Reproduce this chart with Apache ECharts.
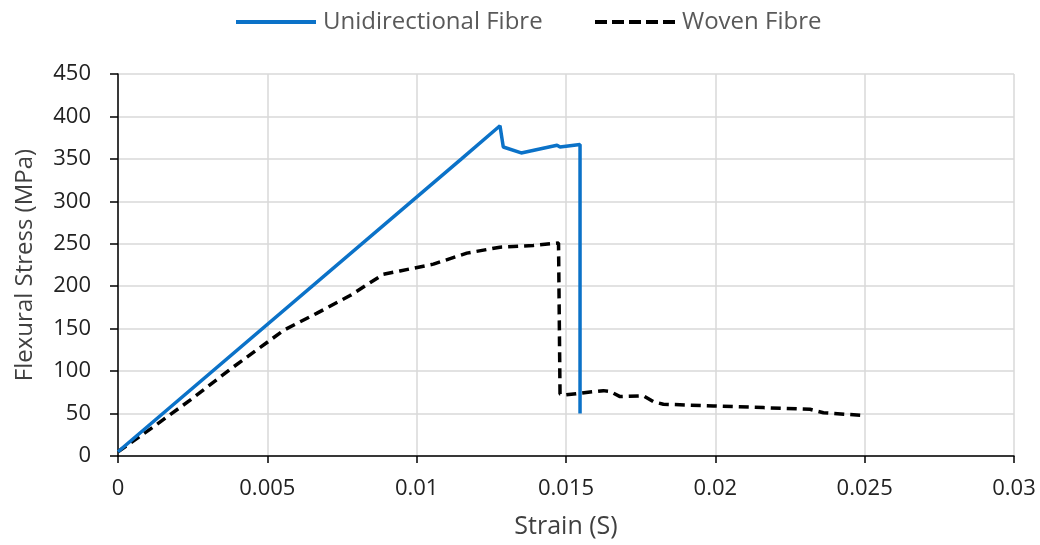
<!DOCTYPE html>
<html>
<head>
<meta charset="utf-8">
<script src="https://cdn.jsdelivr.net/npm/echarts@6/dist/echarts.min.js"></script>
<style>
html,body{margin:0;padding:0;background:#fff;}
#chart{width:1040px;height:545px;}
</style>
</head>
<body>
<div id="chart"></div>
<script>
const seriesNames = ['Unidirectional Fibre', 'Woven Fibre'];
const uniStrain = [0, 0.0115, 0.01279, 0.0129, 0.0135, 0.0147, 0.0148, 0.01547, 0.01547];
const uniStress = [5, 350, 389, 364, 357, 366, 364, 367, 50];
const wovenStrain = [0, 0.00125, 0.0025, 0.00375, 0.005, 0.00554, 0.00665, 0.00777, 0.00888, 0.00944, 0.01056, 0.01168, 0.01279, 0.0139, 0.01475, 0.0148, 0.0150, 0.01547, 0.01625, 0.01648, 0.01681, 0.01759, 0.01793, 0.01826, 0.01994, 0.02161, 0.02317, 0.02362, 0.02485];
const wovenStress = [5, 36, 68, 102, 134, 148, 168, 189, 214, 218, 226, 239, 246, 248, 251, 73, 72, 74, 77, 76, 70, 71, 64, 61, 59, 57, 55, 51, 48];
const xTicks = {min: 0, max: 0.03, interval: 0.005};
const yTicks = {min: 0, max: 450, interval: 50};

const zip = (a, b) => a.map((v, i) => [v, b[i]]);
const font = '"Open Sans", "Liberation Sans", sans-serif';
const dashIcon = 'path://M0,0h12v4h-12z M17,0h12v4h-12z M34,0h12v4h-12z M51,0h12v4h-12z M68,0h12v4h-12z';

const chart = echarts.init(document.getElementById('chart'), null, {renderer: 'canvas'});
chart.setOption({
  animation: false,
  backgroundColor: '#fff',
  textStyle: {fontFamily: font},
  grid: {left: 118, right: 26, top: 74, bottom: 89, containLabel: false},
  legend: [
    {data: [{name: seriesNames[0], icon: 'rect'}], left: 231, top: 5, itemWidth: 80, itemHeight: 4, itemGap: 0,
     textStyle: {fontSize: 24, color: '#595959', fontFamily: font, padding: [0,0,0,2]}},
    {data: [{name: seriesNames[1], icon: dashIcon}], left: 590, top: 5, itemWidth: 80, itemHeight: 4, itemGap: 0,
     textStyle: {fontSize: 24, color: '#595959', fontFamily: font, padding: [0,0,0,2]}}
  ],
  xAxis: {
    type: 'value', min: xTicks.min, max: xTicks.max, interval: xTicks.interval,
    name: 'Strain (S)', nameLocation: 'middle', nameGap: 58,
    nameTextStyle: {fontSize: 25, color: '#404040', fontFamily: font},
    axisLine: {onZero: false, lineStyle: {color: '#000', width: 1.5}},
    axisTick: {show: true, length: 7, lineStyle: {color: '#000', width: 1.5}},
    axisLabel: {fontSize: 22, color: '#222', margin: 22, fontFamily: font,
      formatter: v => String(+(+v).toFixed(3))},
    splitLine: {show: true, lineStyle: {color: '#d9d9d9', width: 1.5}}
  },
  yAxis: {
    type: 'value', min: yTicks.min, max: yTicks.max, interval: yTicks.interval,
    name: 'Flexural Stress (MPa)', nameLocation: 'middle', nameGap: 81, nameRotate: 90,
    nameTextStyle: {fontSize: 24, color: '#404040', fontFamily: font},
    axisLine: {show: true, lineStyle: {color: '#000', width: 1.5}},
    axisTick: {show: true, length: 8, lineStyle: {color: '#000', width: 1.5}},
    axisLabel: {fontSize: 22, color: '#222', margin: 27, fontFamily: font},
    splitLine: {show: true, lineStyle: {color: '#d9d9d9', width: 1.5}}
  },
  series: [
    {name: seriesNames[0], type: 'line', data: zip(uniStrain, uniStress), showSymbol: false, symbol: 'none',
     color: '#0b72c8', lineStyle: {color: '#0b72c8', width: 3.5}, z: 3},
    {name: seriesNames[1], type: 'line', data: zip(wovenStrain, wovenStress), showSymbol: false, symbol: 'none',
     color: '#000', lineStyle: {color: '#000', width: 3.5, type: [10, 6]}, z: 2}
  ]
});
</script>
</body>
</html>
